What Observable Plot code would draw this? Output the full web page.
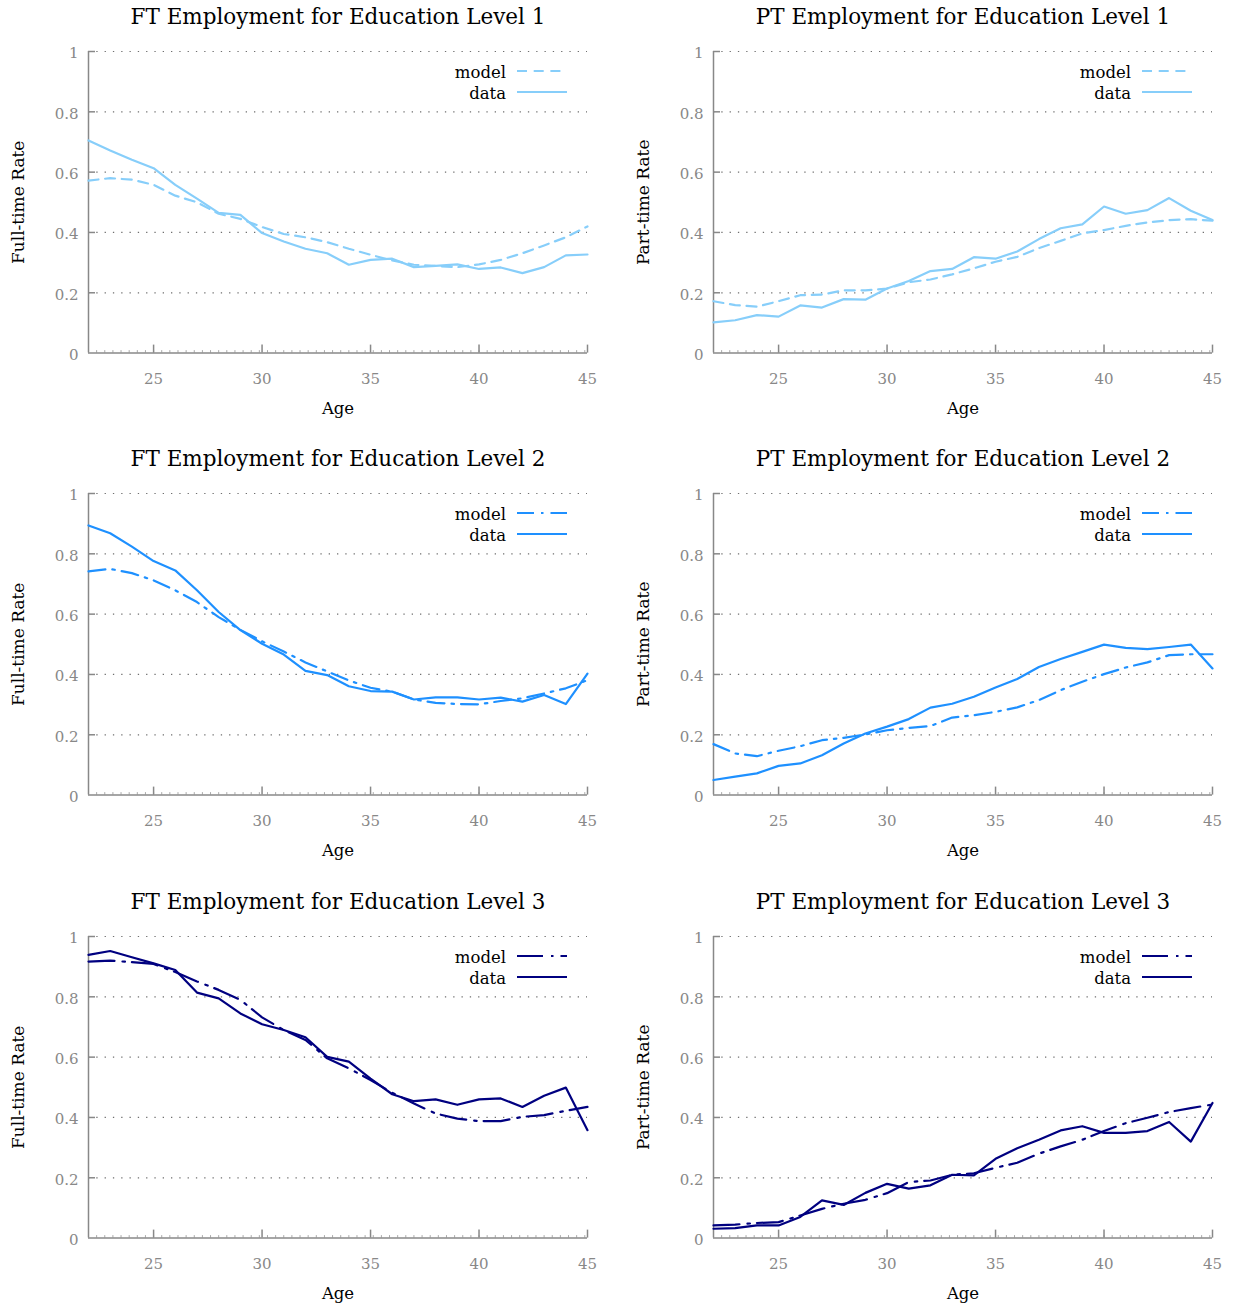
<!DOCTYPE html>
<html><head><meta charset="utf-8">
<script src="https://cdn.jsdelivr.net/npm/d3@7"></script>
<script src="https://cdn.jsdelivr.net/npm/@observablehq/plot@0.6"></script>
<style>
html,body{margin:0;padding:0;background:#fff;overflow:hidden;}
#wrap{position:relative;width:1236px;height:1310px;}
.panel{position:absolute;}
</style></head><body><div id="wrap"></div>
<script>
const ages = [22,23,24,25,26,27,28,29,30,31,32,33,34,35,36,37,38,39,40,41,42,43,44,45];
const xTicks = [25,30,35,40,45];
const yTicks = [0,0.2,0.4,0.6,0.8,1];

const ftEd1Data  = [0.705,0.672,0.641,0.613,0.558,0.512,0.465,0.458,0.398,0.370,0.346,0.331,0.293,0.309,0.313,0.285,0.289,0.294,0.279,0.284,0.265,0.285,0.324,0.327];
const ftEd1Model = [0.572,0.580,0.575,0.558,0.522,0.500,0.462,0.445,0.418,0.395,0.384,0.368,0.346,0.326,0.307,0.293,0.289,0.285,0.294,0.309,0.331,0.357,0.384,0.420];
const ptEd1Data  = [0.102,0.109,0.126,0.121,0.158,0.151,0.179,0.177,0.214,0.239,0.272,0.279,0.318,0.313,0.337,0.378,0.414,0.427,0.486,0.462,0.474,0.514,0.472,0.441];
const ptEd1Model = [0.172,0.159,0.154,0.172,0.192,0.194,0.208,0.208,0.214,0.235,0.244,0.261,0.281,0.303,0.319,0.348,0.372,0.397,0.408,0.422,0.433,0.441,0.444,0.439];
const ftEd2Data  = [0.894,0.868,0.824,0.776,0.745,0.679,0.607,0.547,0.502,0.466,0.412,0.398,0.361,0.345,0.343,0.317,0.324,0.324,0.317,0.323,0.310,0.332,0.302,0.403];
const ftEd2Model = [0.742,0.750,0.736,0.712,0.679,0.640,0.590,0.548,0.510,0.476,0.440,0.410,0.380,0.356,0.343,0.317,0.306,0.302,0.301,0.312,0.321,0.337,0.354,0.381];
const ptEd2Data  = [0.050,0.061,0.072,0.097,0.105,0.132,0.171,0.204,0.227,0.252,0.290,0.303,0.326,0.357,0.385,0.425,0.451,0.475,0.499,0.488,0.484,0.491,0.499,0.420];
const ptEd2Model = [0.169,0.138,0.129,0.147,0.162,0.182,0.190,0.201,0.215,0.223,0.229,0.257,0.265,0.276,0.291,0.315,0.348,0.376,0.401,0.423,0.440,0.464,0.467,0.467];
const ftEd3Data  = [0.939,0.952,0.931,0.911,0.889,0.814,0.795,0.745,0.709,0.690,0.666,0.601,0.585,0.529,0.477,0.454,0.460,0.442,0.460,0.463,0.435,0.472,0.499,0.358];
const ftEd3Model = [0.917,0.920,0.915,0.909,0.882,0.851,0.823,0.790,0.732,0.690,0.657,0.596,0.563,0.524,0.482,0.446,0.413,0.396,0.388,0.388,0.402,0.408,0.422,0.435];
const ptEd3Data  = [0.031,0.033,0.042,0.042,0.070,0.125,0.110,0.150,0.180,0.164,0.175,0.210,0.208,0.263,0.298,0.326,0.357,0.371,0.349,0.349,0.355,0.385,0.320,0.448];
const ptEd3Model = [0.042,0.045,0.050,0.053,0.075,0.097,0.114,0.127,0.149,0.186,0.191,0.210,0.215,0.233,0.250,0.280,0.304,0.326,0.355,0.381,0.399,0.418,0.431,0.443];

const levelColors = ["#87cefa", "#1e90ff", "#000080"];
const modelDashes = ["10,6.7", "17,7,2.5,7", "26,8,2.5,7"];
const titles = [
  ["FT Employment for Education Level 1", "PT Employment for Education Level 1"],
  ["FT Employment for Education Level 2", "PT Employment for Education Level 2"],
  ["FT Employment for Education Level 3", "PT Employment for Education Level 3"]
];
const yLabels = ["Full-time Rate", "Part-time Rate"];
const series = [
  [[ftEd1Data, ftEd1Model], [ptEd1Data, ptEd1Model]],
  [[ftEd2Data, ftEd2Model], [ptEd2Data, ptEd2Model]],
  [[ftEd3Data, ftEd3Model], [ptEd3Data, ptEd3Model]]
];

const FONT = "'DejaVu Serif', Georgia, serif";
const rowTops = [0, 442, 885];
const colLefts = [0, 625];
const minorX = d3.range(22, 45.001, 0.375);

const wrap = document.getElementById("wrap");

for (let r = 0; r < 3; r++) {
  for (let c = 0; c < 2; c++) {
    const W = c === 0 ? 620 : 611;
    const H = 425;
    const mL = 88, mR = W - 587, mT = 51, mB = H - 352.6;
    const plotW = W - mL - mR, plotH = H - mT - mB;
    const [dataVals, modelVals] = series[r][c];
    const dataRows = ages.map((a, i) => ({age: a, v: dataVals[i]}));
    const modelRows = ages.map((a, i) => ({age: a, v: modelVals[i]}));
    const color = levelColors[r];

    const svg = Plot.plot({
      width: W, height: H,
      marginLeft: mL, marginRight: mR, marginTop: mT, marginBottom: mB,
      style: {fontFamily: FONT, background: "white", overflow: "visible"},
      x: {domain: [22, 45]},
      y: {domain: [0, 1]},
      marks: [
        Plot.ruleY(yTicks.slice(1), {stroke: "#6f6f6f", strokeDasharray: "1.3,7", strokeWidth: 1.2}),
        Plot.tickY(yTicks.slice(1), {stroke: "#888", strokeWidth: 1.5, insetRight: plotW - 7}),
        Plot.tickX(minorX, {stroke: "#aaa", strokeWidth: 1, insetTop: plotH - 2.5}),
        Plot.tickX(xTicks, {stroke: "#888", strokeWidth: 1.5, insetTop: plotH - 8}),
        Plot.ruleX([22], {stroke: "#888", strokeWidth: 1.5}),
        Plot.ruleY([0], {stroke: "#888", strokeWidth: 1.5}),
        Plot.axisY(yTicks, {tickSize: 0, tickPadding: 10, fontSize: 15, color: "#888", label: null, dy: 2, tickFormat: d => String(d)}),
        Plot.axisX(xTicks, {tickSize: 0, tickPadding: 20, fontSize: 15, color: "#888", label: null}),
        Plot.line(modelRows, {x: "age", y: "v", stroke: color, strokeWidth: 2.2, strokeDasharray: modelDashes[r]}),
        Plot.line(dataRows, {x: "age", y: "v", stroke: color, strokeWidth: 2.2}),
        Plot.text([titles[r][c]], {frameAnchor: "top", dy: -34, lineAnchor: "middle", fontSize: 21.5, fill: "black"}),
        Plot.text([yLabels[c]], {frameAnchor: "left", textAnchor: "middle", rotate: -90, dx: -70, lineAnchor: "middle", fontSize: 17, fill: "black"}),
        Plot.text(["Age"], {frameAnchor: "bottom", dy: 56, lineAnchor: "middle", fontSize: 16.5, fill: "black"})
      ]
    });

    // legend
    const sel = d3.select(svg);
    const lg = sel.append("g").attr("font-family", FONT).attr("font-size", 16.5);
    const entries = [{label: "model", y: 73, dash: modelDashes[r]}, {label: "data", y: 94, dash: null}];
    entries.forEach(e => {
      lg.append("text").attr("x", 506).attr("y", e.y).attr("dy", "0.32em")
        .attr("text-anchor", "end").attr("fill", "black").text(e.label);
      const ln = lg.append("line").attr("x1", 517).attr("x2", 567)
        .attr("y1", e.y - 2).attr("y2", e.y - 2)
        .attr("stroke", color).attr("stroke-width", 2.2);
      if (e.dash) ln.attr("stroke-dasharray", e.dash);
    });

    const div = document.createElement("div");
    div.className = "panel";
    div.style.left = colLefts[c] + "px";
    div.style.top = rowTops[r] + "px";
    div.appendChild(svg);
    wrap.appendChild(div);
  }
}
</script>
</body></html>
